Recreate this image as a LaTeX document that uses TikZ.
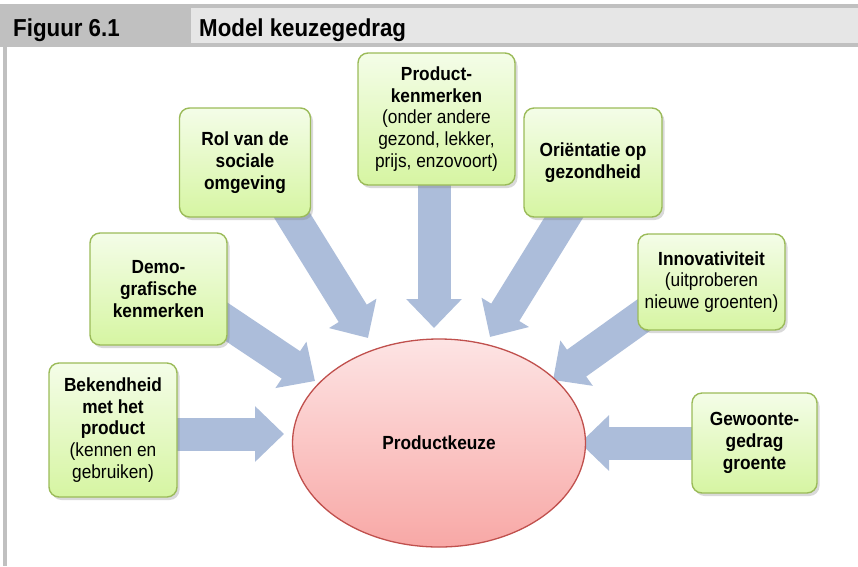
\documentclass[tikz,border=0pt]{standalone}
\usepackage{fontspec}
\setmainfont{Liberation Sans}[FakeStretch=0.91]
\usetikzlibrary{shapes.geometric,shadows,backgrounds,arrows.meta}
\definecolor{arrowblue}{RGB}{172,189,218}
\definecolor{boxborder}{RGB}{155,187,89}
\definecolor{boxtop}{RGB}{244,253,232}
\definecolor{boxbottom}{RGB}{214,245,162}
\definecolor{ellborder}{RGB}{192,80,77}
\definecolor{elltop}{RGB}{253,228,228}
\definecolor{ellbottom}{RGB}{248,168,166}
\definecolor{hdrdark}{RGB}{192,192,192}
\definecolor{hdrlight}{RGB}{230,230,230}
\begin{document}
\begin{tikzpicture}[x=1pt,y=-1pt,
  box/.style={draw=boxborder, line width=1.4pt, rounded corners=10pt,
    top color=boxtop, bottom color=boxbottom, align=center,
    font=\fontsize{19}{21.7}\selectfont, inner sep=0pt,
    drop shadow={shadow xshift=2.5pt,shadow yshift=-3pt,opacity=0.3}},
  blockarrow/.style={draw=arrowblue, line width=33pt,
    -{Triangle[length=29pt 0 0,width=54pt 0 0]}},
  hdrtext/.style={anchor=base west, inner sep=0pt, font=\fontsize{24.5}{28}\selectfont\bfseries}]
\useasboundingbox (0,0) rectangle (858,566);
% header
\fill[hdrdark] (0,4) rectangle (858,47);
\fill[hdrlight] (191,8) rectangle (858,43);
\fill[hdrdark] (3,47) rectangle (7,566);
\node[hdrtext] (fig) at (13,36) {Figuur 6.1};
\node[hdrtext] (title) at (199,36) {Model keuzegedrag};
% central ellipse
\node[ellipse, draw=ellborder, line width=1.3pt, top color=elltop, bottom color=ellbottom,
  minimum width=293pt, minimum height=208pt, inner sep=0pt,
  font=\fontsize{19}{21.7}\selectfont\bfseries] (pk) at (439,443) {Productkeuze};
% boxes
\node[box, minimum width=128pt, minimum height=134pt] (bek) at (113,430)
  {\textbf{Bekendheid}\\\textbf{met het}\\\textbf{product}\\(kennen en\\gebruiken)};
\node[box, minimum width=137pt, minimum height=112pt] (demo) at (158.5,289)
  {\textbf{Demo-}\\\textbf{grafische}\\\textbf{kenmerken}};
\node[box, minimum width=131pt, minimum height=109pt] (rol) at (245,162.5)
  {\textbf{Rol van de}\\\textbf{sociale}\\\textbf{omgeving}};
\node[box, minimum width=157pt, minimum height=132pt] (prod) at (436.5,119)
  {\textbf{Product-}\\\textbf{kenmerken}\\(onder andere\\gezond, lekker,\\prijs, enzovoort)};
\node[box, minimum width=138pt, minimum height=109pt] (ori) at (593,162.5)
  {\textbf{Oriëntatie op}\\\textbf{gezondheid}};
\node[box, minimum width=147pt, minimum height=96pt] (inno) at (711.5,282)
  {\textbf{Innovativiteit}\\(uitproberen\\nieuwe groenten)};
\node[box, minimum width=125pt, minimum height=100pt] (gew) at (754.5,443)
  {\textbf{Gewoonte-}\\\textbf{gedrag}\\\textbf{groente}};
% arrow end points
\coordinate (s1) at (150,434); \coordinate (t1) at (284,434);
\coordinate (s2) at (170,284); \coordinate (t2) at (315,381);
\coordinate (s3) at (262,167); \coordinate (t3) at (368,338);
\coordinate (s4) at (434,150); \coordinate (t4) at (434,328);
\coordinate (s5) at (595,167); \coordinate (t5) at (490,337);
\coordinate (s6) at (690,282); \coordinate (t6) at (553,380);
\coordinate (s7) at (740,443); \coordinate (t7) at (580,443);
\begin{pgfonlayer}{background}
\draw[blockarrow] (s1) -- (t1);
\draw[blockarrow] (s2) -- (t2);
\draw[blockarrow] (s3) -- (t3);
\draw[blockarrow] (s4) -- (t4);
\draw[blockarrow] (s5) -- (t5);
\draw[blockarrow] (s6) -- (t6);
\draw[blockarrow] (s7) -- (t7);
\end{pgfonlayer}
\end{tikzpicture}
\end{document}
